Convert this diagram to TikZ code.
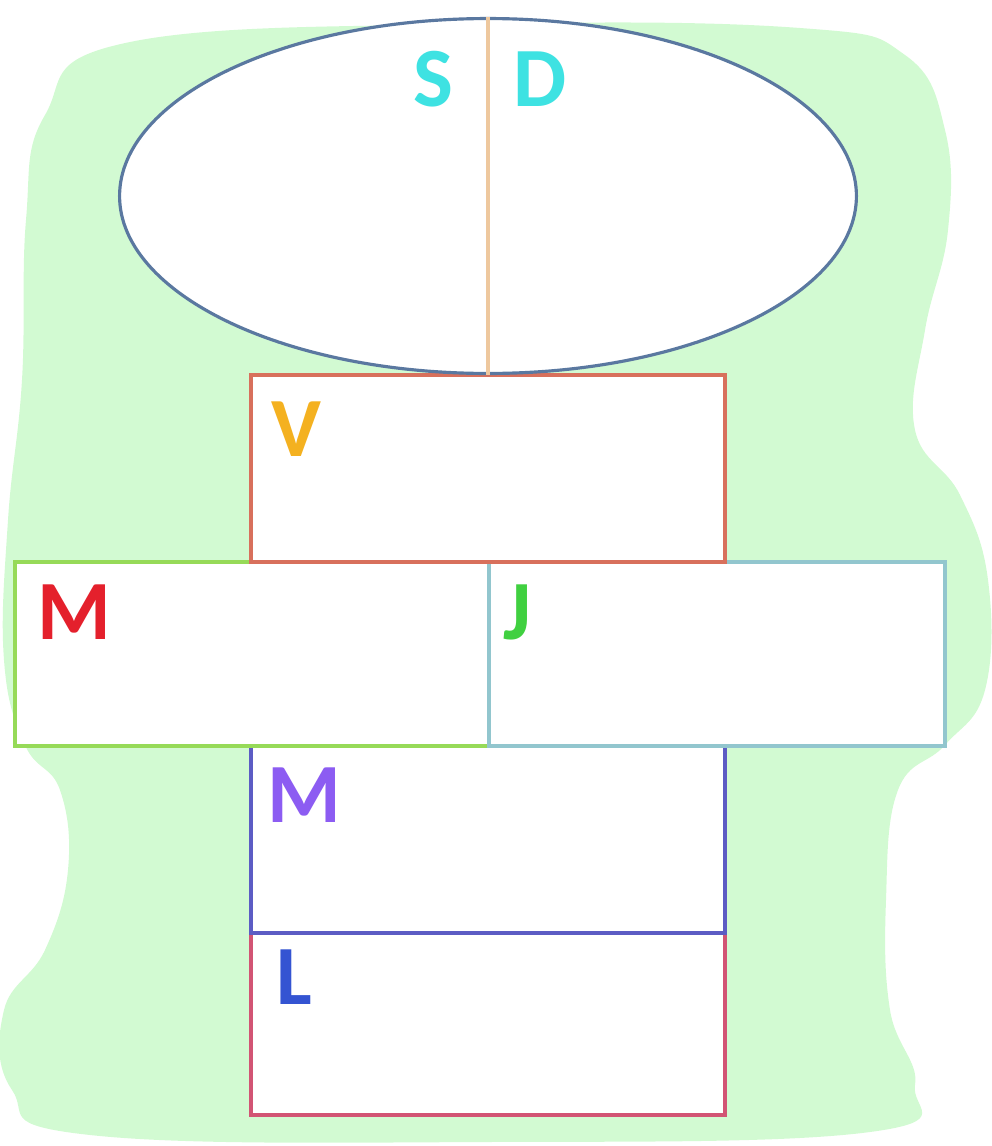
\documentclass[tikz,border=0pt]{standalone}
\usepackage{fontspec}
\setmainfont{Carlito}
\usetikzlibrary{shapes.geometric}
\definecolor{FundoVerde}{HTML}{D2FAD2}
\definecolor{ElipseBorda}{HTML}{5A78A0}
\definecolor{LinhaSD}{HTML}{EEC89E}
\definecolor{CorSD}{HTML}{3EE2E2}
\definecolor{CorV}{HTML}{F4B120}
\definecolor{BordaV}{HTML}{D8705C}
\definecolor{CorMa}{HTML}{E4202C}
\definecolor{BordaMa}{HTML}{96DA58}
\definecolor{CorJ}{HTML}{40D040}
\definecolor{BordaJ}{HTML}{92C6CE}
\definecolor{CorMb}{HTML}{8C5CF2}
\definecolor{BordaMb}{HTML}{5C5CC4}
\definecolor{CorL}{HTML}{3454D2}
\definecolor{BordaL}{HTML}{D25474}

\begin{document}
\begin{tikzpicture}[x=0.02cm, y=-0.02cm,
            caixa/.style={fill=white, line width=1.8pt, minimum width=9.48cm,
                          minimum height=3.72cm, inner sep=0pt},
            letra/.style={font=\fontsize{48}{48}\selectfont\bfseries, inner sep=0pt}]

            \useasboundingbox (0,0) rectangle (991,1146);

            % fundo verde
            \fill[FundoVerde] plot[smooth cycle, tension=0.7] coordinates {
                (488,24) (800,28) (905,55) (945,130) (948,230) (925,330) (915,430)
                (960,495) (988,580) (985,690) (945,745) (898,790) (886,900)
                (890,1010) (915,1085) (870,1132) (488,1142) (90,1135) (12,1090)
                (4,1010) (45,950) (68,870) (60,790) (25,745) (4,660) (8,520)
                (22,380) (26,220) (45,115) (130,42)};

            % caixas de baixo para cima
            \node[caixa, draw=BordaL, minimum height=3.64cm] (cxL) at (488,1024) {};
            \node[caixa, draw=BordaMb, minimum height=3.74cm] (cxMb) at (488,839.5) {};
            \node[caixa, draw=BordaMa, minimum height=3.68cm] (cxMa) at (252,654) {};
            \node[caixa, draw=BordaJ, minimum width=9.12cm, minimum height=3.68cm] (cxJ) at (717,654) {};
            \node[caixa, draw=BordaV, minimum height=3.74cm] (cxV) at (488,468.5) {};

            % elipse S | D
            \node[ellipse, draw=ElipseBorda, fill=white, line width=1.8pt, inner sep=0pt,
                  minimum width=14.74cm, minimum height=7.1cm] (elipse) at (488,196) {};
            \draw[LinhaSD, line width=1.8pt] (elipse.north) -- (elipse.south);

            % letras
            \node[letra, text=CorSD] (labS) at (433,79) {S};
            \node[letra, text=CorSD] (labD) at (540,79) {D};
            \node[letra, text=CorV]  (labV) at (296,429) {V};
            \node[letra, text=CorMa] (labMa) at (74,612) {M};
            \node[letra, text=CorJ]  (labJ) at (517,612) {J};
            \node[letra, text=CorMb] (labMb) at (304,795) {M};
            \node[letra, text=CorL]  (labL) at (294,977) {L};
        \end{tikzpicture}
\end{document}
